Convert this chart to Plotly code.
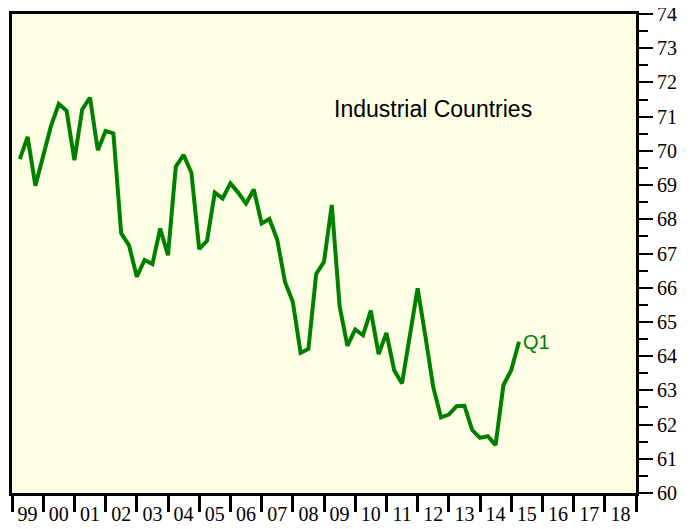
import plotly.graph_objects as go

# Quarterly values, 1999 Q1 .. 2015 Q1
values = [
    69.76, 70.41, 68.98, 69.89,   # 1999
    70.73, 71.37, 71.17, 69.73,   # 2000
    71.21, 71.56, 70.02, 70.58,   # 2001
    70.51, 67.59, 67.24, 66.32,   # 2002
    66.81, 66.69, 67.73, 66.95,   # 2003
    69.54, 69.88, 69.36, 67.13,   # 2004
    67.37, 68.78, 68.61, 69.05,   # 2005
    68.78, 68.46, 68.87, 67.88,   # 2006
    68.01, 67.41, 66.17, 65.59,   # 2007
    64.10, 64.21, 66.40, 66.76,   # 2008
    68.42, 65.46, 64.30, 64.78,   # 2009
    64.61, 65.33, 64.06, 64.68,   # 2010
    63.59, 63.20, 64.61, 65.98,   # 2011
    64.58, 63.10, 62.21, 62.29,   # 2012
    62.54, 62.55, 61.84, 61.61,   # 2013
    61.66, 61.40, 63.15, 63.59,   # 2014
    64.42,                        # 2015 Q1
]
start_year = 1999
quarter_x = [start_year + 0.25 * (i + 1) for i in range(len(values))]

year_labels = ["99", "00", "01", "02", "03", "04", "05", "06", "07", "08",
               "09", "10", "11", "12", "13", "14", "15", "16", "17", "18"]
year_bounds = [start_year + i for i in range(len(year_labels) + 1)]
year_mids = [start_year + i + 0.5 for i in range(len(year_labels))]

title_text = "Industrial Countries"
end_label = "Q1"

fig = go.Figure()
fig.add_trace(go.Scatter(
    x=quarter_x, y=values, mode="lines",
    line=dict(color="#008000", width=4),
    hoverinfo="skip", showlegend=False,
))

fig.add_annotation(
    x=quarter_x[-1], y=values[-1], text=end_label, showarrow=False,
    xanchor="left", yanchor="middle", xshift=2,
    font=dict(family="Liberation Sans, Arial", size=20, color="#008000"),
)
fig.add_annotation(
    x=0.674, y=0.802, xref="paper", yref="paper", text=title_text,
    showarrow=False, xanchor="center", yanchor="middle",
    font=dict(family="Liberation Sans, Arial", size=23, color="black"),
)

# page body has an 8px margin, so the figure is sized to fit the window
fig.update_layout(
    width=690, height=521,
    margin=dict(l=4, r=62, t=6, b=36),
    paper_bgcolor="white",
    plot_bgcolor="#FFFFE6",
    font=dict(family="Liberation Serif, Times New Roman", size=20, color="black"),
)
fig.update_xaxes(
    automargin=False,
    range=[year_bounds[0], year_bounds[-1]],
    tickmode="array", tickvals=year_mids, ticktext=year_labels,
    ticks="", ticklabelstandoff=1,
    showgrid=False, zeroline=False,
    showline=True, linecolor="black", linewidth=3, mirror=True,
    minor=dict(tickmode="array", tickvals=year_bounds, ticks="outside",
               ticklen=16, tickwidth=3, tickcolor="black", showgrid=False),
)
fig.update_yaxes(
    automargin=False,
    range=[60, 74], side="right",
    tickmode="linear", tick0=60, dtick=1,
    ticks="outside", ticklen=14, tickwidth=2, tickcolor="black",
    ticklabeloverflow="allow",
    showgrid=False, zeroline=False,
    showline=True, linecolor="black", linewidth=3, mirror=True,
    minor=dict(tickmode="linear", tick0=60.5, dtick=1, ticks="outside",
               ticklen=9, tickwidth=2, tickcolor="black", showgrid=False),
)

fig.write_html("out.html")
